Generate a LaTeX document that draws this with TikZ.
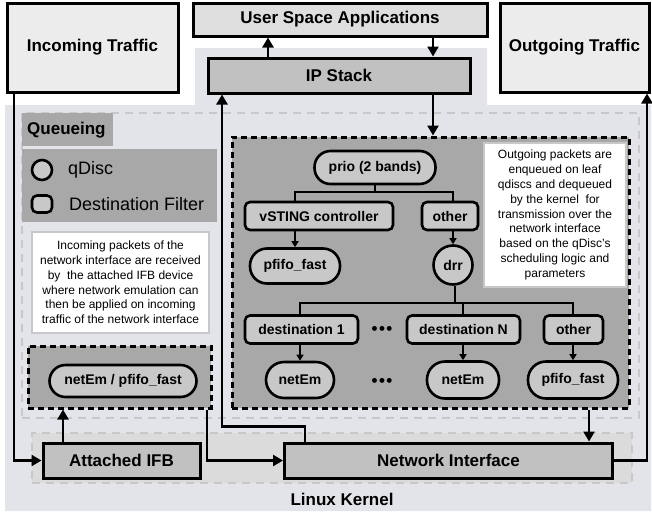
\documentclass[tikz,border=0pt]{standalone}
\usepackage{fontspec}
\setmainfont{Liberation Sans}
\usetikzlibrary{arrows.meta,calc}
\definecolor{kernelbg}{RGB}{227,228,233}
\definecolor{outerfill}{RGB}{236,236,236}
\definecolor{uafill}{RGB}{222,222,222}
\definecolor{ipfill}{RGB}{193,193,193}
\definecolor{darkfill}{RGB}{168,168,168}
\definecolor{nodefill}{RGB}{200,200,200}
\definecolor{stripfill}{RGB}{219,219,219}
\definecolor{dashgray}{RGB}{200,200,200}
\tikzset{
  bigbox/.style={draw=black, line width=3pt, inner sep=0pt, font=\fontsize{17}{20}\selectfont\bfseries},
  qdisc/.style={draw=black, line width=2.6pt, fill=nodefill, inner sep=0pt, font=\fontsize{14}{16}\selectfont\bfseries},
  filt/.style={draw=black, line width=2.6pt, fill=nodefill, rounded corners=5pt, inner sep=0pt, font=\fontsize{14}{16}\selectfont\bfseries},
  blackdash/.style={draw=black, line width=3pt, dash pattern=on 6pt off 4pt, fill=darkfill, inner sep=0pt},
  graydash/.style={draw=dashgray, line width=2.2pt, dash pattern=on 8pt off 6pt, inner sep=0pt},
  note/.style={draw=dashgray, line width=1.8pt, fill=white, inner sep=0pt, align=center, font=\fontsize{12}{14.8}\selectfont},
  arr/.style={line width=2.4pt, -{Triangle[length=10pt,width=11pt]}},
  tline/.style={line width=1.7pt},
  tarr/.style={line width=1.7pt, -{Triangle[length=6pt,width=7pt]}},
}
\begin{document}
\begin{tikzpicture}[x=1pt,y=-1pt]
\useasboundingbox (0,0) rectangle (652,514);
% kernel background
\fill[kernelbg] (5,105) -- (195,105) -- (195,48) -- (487,48) -- (487,105) -- (651,105) -- (651,511) -- (5,511) -- cycle;
% queueing region and kernel strip
\node[graydash, minimum width=617pt, minimum height=305pt] (qreg) at (330.5,265.5) {};
\node[graydash, fill=stripfill, minimum width=600pt, minimum height=50pt] (strip) at (332,458) {};
% top boxes
\node[bigbox, fill=outerfill, minimum width=171pt, minimum height=89pt] (inc) at (92.5,47.5) {Incoming Traffic};
\node[bigbox, fill=outerfill, minimum width=149pt, minimum height=89pt] (out) at (574.5,47.5) {Outgoing Traffic};
\node[bigbox, fill=uafill, minimum width=294pt, minimum height=33pt] (ua) at (340,19.5) {User Space Applications};
\node[bigbox, fill=ipfill, minimum width=262pt, minimum height=35pt] (ip) at (339,75.5) {IP Stack};
% queueing label and legend
\node[fill=darkfill, minimum width=91pt, minimum height=33pt, inner sep=0pt] (qlab) at (67.5,129.5) {};
\node[anchor=west, inner sep=0pt, font=\fontsize{17}{20}\selectfont\bfseries] (qtext) at (27,130) {Queueing};
\node[fill=darkfill, minimum width=195pt, minimum height=73pt, inner sep=0pt] (legend) at (119.5,185.5) {};
\node[draw=black, line width=2.6pt, fill=nodefill, circle, minimum size=20pt, inner sep=0pt] (lcirc) at (42,170) {};
\node[draw=black, line width=2.6pt, fill=nodefill, rounded corners=5pt, minimum width=20pt, minimum height=17pt, inner sep=0pt] (lrect) at (42,204) {};
\node[anchor=west, inner sep=0pt, font=\fontsize{18}{20}\selectfont] (lq) at (68,170) {qDisc};
\node[anchor=west, inner sep=0pt, font=\fontsize{18}{20}\selectfont] (lf) at (69,204) {Destination Filter};
% notes
\node[note, minimum width=177pt, minimum height=101pt] (innote) at (120.5,282.5) {Incoming packets of the\\network interface are received\\by\ \ the attached IFB device\\where network emulation can\\then be applied on incoming\\traffic of the network interface};
% left queue box
\node[blackdash, minimum width=183pt, minimum height=62pt] (lbox) at (119.5,377) {};
\node[qdisc, rounded corners=16pt, minimum width=147pt, minimum height=32pt] (nepf) at (123,381) {netEm / pfifo\_fast};
% right queue box
\node[blackdash, minimum width=397pt, minimum height=271pt] (rbox) at (430.5,272.5) {};
\node[note, minimum width=142pt, minimum height=144pt] (outnote) at (555,215) {Outgoing packets are\\enqueued on leaf\\qdiscs and dequeued\\by the kernel\ \ for\\transmission over the\\network interface\\based on the qDisc’s\\scheduling logic and\\parameters};
% tree
\node[qdisc, rounded corners=16pt, minimum width=121pt, minimum height=33pt] (prio) at (375,167.5) {prio (2 bands)};
\node[filt, minimum width=148pt, minimum height=28pt] (vsting) at (319,216) {vSTING controller};
\node[filt, minimum width=56pt, minimum height=28pt] (oth1) at (450,216) {other};
\node[qdisc, rounded corners=17pt, minimum width=90pt, minimum height=35pt] (pf1) at (295,266) {pfifo\_fast};
\node[qdisc, circle, minimum size=39pt] (drr) at (453,265) {drr};
\node[filt, minimum width=113pt, minimum height=28pt] (dest1) at (301.5,329.5) {destination 1};
\node[filt, minimum width=113pt, minimum height=28pt] (destN) at (463.5,329.5) {destination N};
\node[filt, minimum width=59pt, minimum height=28pt] (oth2) at (573.5,329.5) {other};
\node[qdisc, rounded corners=18pt, minimum width=68pt, minimum height=36pt] (ne1) at (300,380) {netEm};
\node[qdisc, rounded corners=18pt, minimum width=72pt, minimum height=37pt] (neN) at (463,380) {netEm};
\node[qdisc, rounded corners=18pt, minimum width=90pt, minimum height=37pt] (pf2) at (573,380) {pfifo\_fast};
\node[inner sep=0pt, font=\fontsize{17}{18}\selectfont\bfseries] (dots1) at (382,330) {•\hspace{1.5pt}•\hspace{1.5pt}•};
\node[inner sep=0pt, font=\fontsize{17}{18}\selectfont\bfseries] (dots2) at (382,382) {•\hspace{1.5pt}•\hspace{1.5pt}•};
% bottom boxes
\node[bigbox, fill=ipfill, minimum width=157pt, minimum height=35pt] (ifb) at (121.5,460.5) {Attached IFB};
\node[bigbox, fill=ipfill, minimum width=328pt, minimum height=35pt] (ni) at (448.5,460.5) {Network Interface};
\node[inner sep=0pt, font=\fontsize{17}{20}\selectfont\bfseries] (lk) at (342,499) {Linux Kernel};
% helper coordinates
\coordinate (c1) at (268,0);
\coordinate (c2) at (433,0);
\coordinate (c3) at (14,0);
\coordinate (c4) at (63,0);
\coordinate (c5) at (207,0);
\coordinate (c6) at (305,0);
\coordinate (c7) at (222,0);
\coordinate (c8) at (589,0);
\coordinate (c9) at (647,0);
\coordinate (j1) at (375,192);
\coordinate (j2) at (455,303);
% tree connectors
\draw[tline] (prio.south) -- (j1);
\draw[tline] (pf1.north |- vsting.north) |- (j1) -| (drr.north |- oth1.north);
\draw[tarr] (vsting.south -| pf1) -- (pf1.north);
\draw[tarr] (oth1.south -| drr) -- (drr.north);
\draw[tline] (drr.south -| j2) -- (j2);
\draw[tline] (ne1.north |- dest1.north) |- (j2) -| (pf2.north |- oth2.north);
\draw[tline] (neN |- j2) -- (neN |- destN.north);
\draw[tarr] (dest1.south -| ne1) -- (ne1.north);
\draw[tarr] (destN.south -| neN) -- (neN.north);
\draw[tarr] (oth2.south -| pf2) -- (pf2.north);
% main connectors
\draw[arr] (ip.north -| c1) -- (ua.south -| c1);
\draw[arr] (ua.south -| c2) -- (ip.north -| c2);
\draw[arr] (ip.south -| c2) -- (rbox.north -| c2);
\draw[arr] (inc.south -| c3) |- (ifb.west);
\draw[arr] (ifb.north -| c4) -- (lbox.south -| c4);
\draw[arr] (lbox.south -| c5) |- (ni.west);
\draw[arr] (ni.north -| c6) -- ++(0,-15) -| (ip.south -| c7);
\draw[arr] (rbox.south -| c8) -- (ni.north -| c8);
\draw[arr] (ni.east) -| (out.south -| c9);
\end{tikzpicture}
\end{document}
